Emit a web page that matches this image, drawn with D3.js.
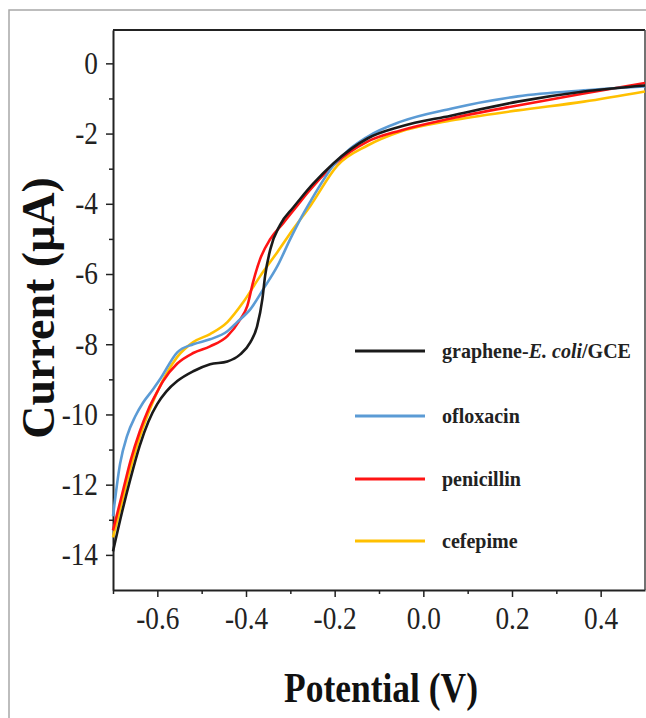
<!DOCTYPE html>
<html>
<head>
<meta charset="utf-8">
<script src="https://cdn.jsdelivr.net/npm/d3@7"></script>
<style>
	body { margin: 0; background: #fff; }
	#chart { width: 646px; height: 718px; }
	.axis text { font-family: "Liberation Serif", "Times New Roman", serif; fill: #222; }
</style>
</head>
<body>
<div id="chart"></div>
<script>
// ----------------------------------
// DATA (potential in V, current in µA)
// ----------------------------------

const seriesNames = ['graphene-E. coli/GCE', 'ofloxacin', 'penicillin', 'cefepime'];

const grapheneEcoli = [
	[-0.700, -13.90], [-0.680, -12.80], [-0.660, -11.80], [-0.640, -10.90], [-0.620, -10.20],
	[-0.600, -9.70], [-0.580, -9.35], [-0.555, -9.05], [-0.519, -8.77], [-0.481, -8.57],
	[-0.442, -8.49], [-0.413, -8.29], [-0.390, -7.94], [-0.375, -7.49], [-0.363, -6.71],
	[-0.357, -6.06], [-0.345, -5.29], [-0.323, -4.60], [-0.293, -4.10], [-0.277, -3.85],
	[-0.250, -3.45], [-0.203, -2.85], [-0.126, -2.14], [-0.051, -1.80], [0.062, -1.49],
	[0.213, -1.09], [0.362, -0.80], [0.500, -0.63]
];

const ofloxacin = [
	[-0.700, -12.90], [-0.684, -11.40], [-0.668, -10.60], [-0.650, -10.06], [-0.632, -9.66],
	[-0.610, -9.29], [-0.594, -9.00], [-0.555, -8.23], [-0.519, -8.00], [-0.481, -7.86],
	[-0.442, -7.63], [-0.420, -7.37], [-0.390, -7.00], [-0.361, -6.43], [-0.329, -5.77],
	[-0.300, -5.00], [-0.277, -4.43], [-0.255, -3.94], [-0.203, -2.91], [-0.126, -2.09],
	[-0.051, -1.66], [0.062, -1.29], [0.213, -0.94], [0.362, -0.77], [0.500, -0.66]
];

const penicillin = [
	[-0.700, -13.30], [-0.680, -12.30], [-0.660, -11.30], [-0.640, -10.50], [-0.620, -9.85],
	[-0.600, -9.35], [-0.587, -9.05], [-0.555, -8.55], [-0.519, -8.25], [-0.481, -8.06],
	[-0.442, -7.77], [-0.413, -7.29], [-0.397, -6.91], [-0.384, -6.23], [-0.368, -5.57],
	[-0.345, -5.00], [-0.316, -4.55], [-0.284, -4.05], [-0.262, -3.70], [-0.203, -2.90],
	[-0.126, -2.23], [-0.051, -1.91], [0.062, -1.57], [0.213, -1.20], [0.362, -0.86],
	[0.500, -0.56]
];

const cefepime = [
	[-0.700, -13.50], [-0.680, -12.50], [-0.660, -11.50], [-0.640, -10.65], [-0.620, -9.95],
	[-0.600, -9.35], [-0.580, -8.85], [-0.555, -8.36], [-0.519, -7.94], [-0.481, -7.71],
	[-0.442, -7.37], [-0.406, -6.80], [-0.368, -6.06], [-0.329, -5.37], [-0.293, -4.71],
	[-0.255, -4.06], [-0.194, -2.91], [-0.126, -2.34], [-0.051, -1.94], [0.062, -1.63],
	[0.213, -1.34], [0.362, -1.09], [0.500, -0.80]
];

const xTicks = [-0.6, -0.4, -0.2, 0.0, 0.2, 0.4];
const xMinorTicks = [-0.7, -0.5, -0.3, -0.1, 0.1, 0.3];
const yTicks = [0, -2, -4, -6, -8, -10, -12, -14];
const yMinorTicks = [-1, -3, -5, -7, -9, -11, -13];

// styles kept apart from the values
const lineColors = ['#1a1a1a', '#5b9bd5', '#ff1414', '#ffc000'];

// ----------------------------------
// SETUP
// ----------------------------------

const 	width = 646,
		height = 718,
		margin = {top: 30, right: 1, bottom: 128, left: 113},
		innerWidth = width - margin.left - margin.right,
		innerHeight = height - margin.top - margin.bottom;

const svg = d3.select('#chart')
	.append('svg')
	.attr('width', width)
	.attr('height', height);

// light outer frame of the figure (runs off the right and bottom of the page)
svg.append('path')
	.attr('d', `M9,${height} V10 H${width}`)
	.attr('fill', 'none')
	.attr('stroke', '#a8a8a8')
	.attr('stroke-width', 1.5);

const chartInner = svg.append('g')
	.attr('transform', `translate(${margin.left}, ${margin.top})`);

const xScale = d3.scaleLinear()
	.domain([-0.7, 0.5])
	.range([0, innerWidth]);

const yScale = d3.scaleLinear()
	.domain([-15, 0.95])
	.range([innerHeight, 0]);

// ----------------------------------
// AXES
// ----------------------------------

const xAxis = chartInner.append('g')
	.attr('class', 'x axis')
	.attr('transform', `translate(0, ${innerHeight})`)
	.call(d3.axisBottom(xScale)
		.tickValues(xTicks)
		.tickFormat(d3.format('.1f'))
		.tickSize(7)
		.tickSizeOuter(0)
		.tickPadding(10));

// minor ticks, no labels
xAxis.append('g')
	.call(d3.axisBottom(xScale).tickValues(xMinorTicks).tickSize(4).tickSizeOuter(0))
	.call(g => g.select('.domain').remove())
	.call(g => g.selectAll('text').remove());

const yAxis = chartInner.append('g')
	.attr('class', 'y axis')
	.call(d3.axisLeft(yScale)
		.tickValues(yTicks)
		.tickFormat(d3.format('d'))
		.tickSize(7)
		.tickSizeOuter(0)
		.tickPadding(8));

yAxis.append('g')
	.call(d3.axisLeft(yScale).tickValues(yMinorTicks).tickSize(4).tickSizeOuter(0))
	.call(g => g.select('.domain').remove())
	.call(g => g.selectAll('text').remove());

chartInner.selectAll('.axis .domain')
	.attr('stroke', '#222')
	.attr('stroke-width', 2);

chartInner.selectAll('.axis .tick line')
	.attr('stroke', '#222')
	.attr('stroke-width', 1.5);

// condensed look of the original labels via textLength instead of a transform
chartInner.selectAll('.axis text')
	.attr('font-size', 31)
	.text(function(){ return this.textContent.replace('\u2212', '-'); })
	.each(function(){
		const w = this.getComputedTextLength();
		d3.select(this)
			.attr('textLength', w * 0.88)
			.attr('lengthAdjust', 'spacingAndGlyphs');
	});

// top and right frame lines
chartInner.append('line')
	.attr('x1', 0).attr('x2', innerWidth)
	.attr('y1', 0).attr('y2', 0)
	.attr('stroke', '#222').attr('stroke-width', 2);

chartInner.append('line')
	.attr('x1', innerWidth).attr('x2', innerWidth)
	.attr('y1', 0).attr('y2', innerHeight)
	.attr('stroke', '#444').attr('stroke-width', 1.5);

// ----------------------------------
// LINES
// ----------------------------------

const line = d3.line()
	.x(d => xScale(d[0]))
	.y(d => yScale(d[1]))
	.curve(d3.curveMonotoneX);

const allSeries = [grapheneEcoli, ofloxacin, penicillin, cefepime];

// draw black last so it sits on top, like the original
[3, 2, 1, 0].forEach(idx => {
	chartInner.append('path')
		.datum(allSeries[idx])
		.attr('d', line)
		.attr('fill', 'none')
		.attr('stroke', lineColors[idx])
		.attr('stroke-width', 2.6)
		.attr('stroke-linejoin', 'round');
});

// ----------------------------------
// LEGEND
// ----------------------------------

const legendRows = [351, 416, 479, 541];

seriesNames.forEach((name, idx) => {
	const row = svg.append('g')
		.attr('transform', `translate(355, ${legendRows[idx]})`);

	row.append('line')
		.attr('x1', 0).attr('x2', 70)
		.attr('y1', 0).attr('y2', 0)
		.attr('stroke', lineColors[idx])
		.attr('stroke-width', 3);

	const label = row.append('text')
		.attr('x', 87)
		.attr('y', 7)
		.attr('font-family', '"Liberation Serif", "Times New Roman", serif')
		.attr('font-weight', 'bold')
		.attr('font-size', 20)
		.attr('fill', '#222');

	if (idx === 0){
		label.append('tspan').text('graphene-');
		label.append('tspan').attr('font-style', 'italic').text('E. coli');
		label.append('tspan').text('/GCE');
	} else {
		label.text(name);
	}
});

// ----------------------------------
// AXIS TITLES
// ----------------------------------

svg.append('text')
	.attr('transform', 'translate(54, 308) rotate(-90)')
	.attr('text-anchor', 'middle')
	.attr('font-family', '"Liberation Serif", "Times New Roman", serif')
	.attr('font-weight', 'bold')
	.attr('font-size', 46)
	.attr('fill', '#111')
	.text('Current (\u03bcA)');

svg.append('text')
	.attr('x', 381)
	.attr('y', 702)
	.attr('text-anchor', 'middle')
	.attr('textLength', 194)
	.attr('lengthAdjust', 'spacingAndGlyphs')
	.attr('font-family', '"Liberation Serif", "Times New Roman", serif')
	.attr('font-weight', 'bold')
	.attr('font-size', 43)
	.attr('fill', '#111')
	.text('Potential (V)');
</script>
</body>
</html>
